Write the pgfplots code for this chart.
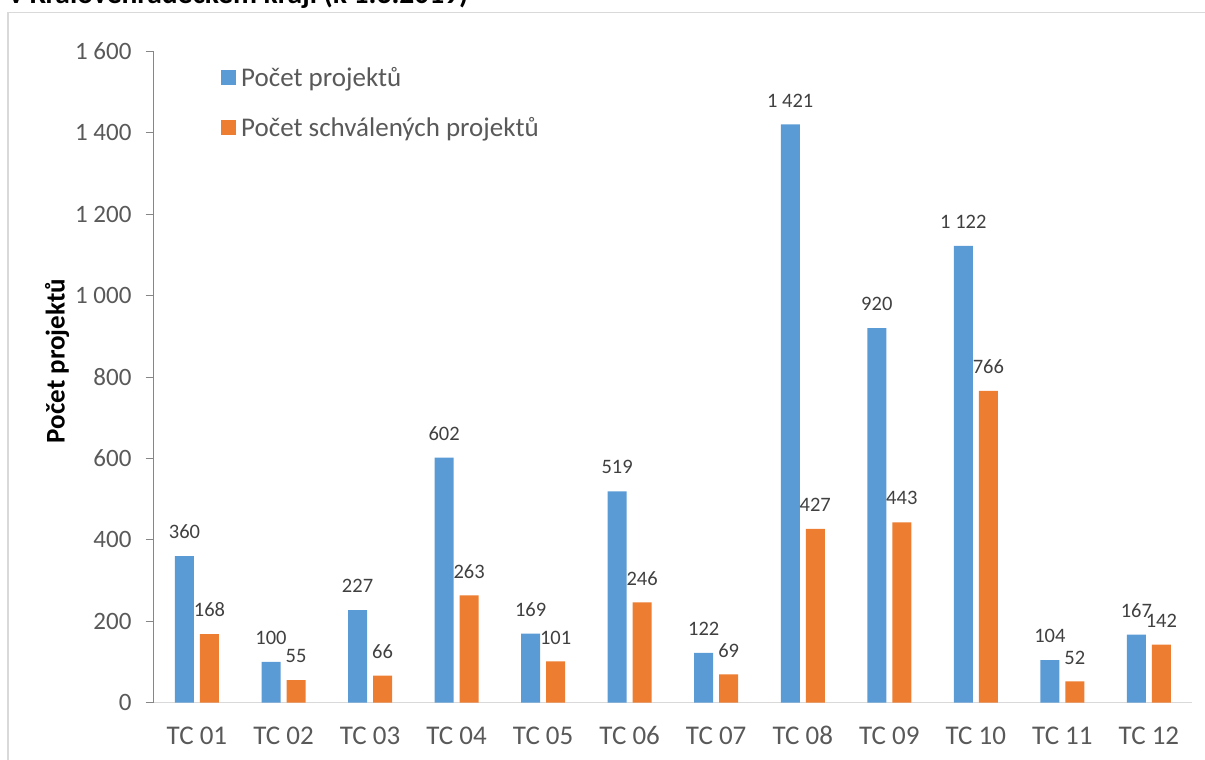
\documentclass[border=0pt]{standalone}
\usepackage{pgfplots}
\pgfplotsset{compat=1.18}
\usepackage{fontspec}
\setmainfont{Carlito}
\definecolor{cblue}{HTML}{5B9BD5}
\definecolor{corange}{HTML}{ED7D31}
\definecolor{ctick}{HTML}{595959}
\definecolor{clabel}{HTML}{404040}
\definecolor{cgrid}{HTML}{D9D9D9}
\definecolor{caxis}{HTML}{868686}
\begin{document}
\begin{tikzpicture}
\useasboundingbox (0pt,0pt) rectangle (1205pt,-760pt);
\clip (0pt,0pt) rectangle (1205pt,-760pt);
\draw[cgrid, line width=1.3pt] (8pt,-780pt) -- (8pt,-12.5pt) -- (1230pt,-12.5pt);
\node[anchor=base west, inner sep=0pt, font=\bfseries\fontsize{29.5}{34}\selectfont, text=black] at (9pt,-3.3pt) {v Královéhradeckém kraji (k 1.3.2019)};
\begin{axis}[
  at={(153.7pt,-702.5pt)}, anchor=south west,
  scale only axis, width=1038.5pt, height=651pt,
  xmin=-0.5, xmax=11.5, ymin=0, ymax=1600,
  ybar=6pt, bar width=19pt,
  axis x line=bottom, axis y line=left,
  axis line style={-},
  x axis line style={cgrid, line width=1.3pt},
  y axis line style={caxis, line width=1pt},
  xtick={0,...,11},
  xticklabels={TC 01,TC 02,TC 03,TC 04,TC 05,TC 06,TC 07,TC 08,TC 09,TC 10,TC 11,TC 12},
  ytick={0,200,...,1600},
  tick align=outside, major tick length=8pt,
  xtick style={draw=none},
  ytick style={caxis, line width=1pt},
  /pgf/number format/assume math mode=true,
  /pgf/number format/1000 sep={\ },
  yticklabel style={font=\fontsize{25}{29}\selectfont, text=ctick, inner sep=0pt, xshift=-14pt},
  xticklabel style={font=\fontsize{27}{31}\selectfont, text=ctick, inner sep=0pt, text height=17.3pt, text depth=0pt, yshift=-16pt},
  every axis y label/.style={at={(axis description cs:-0.0931,0.5246)}, rotate=90, anchor=center, font=\bfseries\fontsize{27}{31}\selectfont, text=black},
  ylabel={Počet projektů},
  nodes near coords,
  every node near coord/.append style={font=\fontsize{20.5}{24}\selectfont, text=clabel, inner sep=0pt, yshift=17pt},
  legend image code/.code={\fill[#1] (0pt,-7.5pt) rectangle (15pt,7.5pt);},
  legend style={at={(0.0648,0.976)}, anchor=north west, draw=none, fill=none,
    font=\fontsize{27}{31}\selectfont, text=ctick, cells={anchor=west},
    row sep=29pt, column sep=5pt, inner sep=0pt, nodes={inner sep=0pt}},
]
\addplot[fill=cblue, draw=none] coordinates {(0,360) (1,100) (2,227) (3,602) (4,169) (5,519) (6,122) (7,1421) (8,920) (9,1122) (10,104) (11,167)};
\addplot[fill=corange, draw=none] coordinates {(0,168) (1,55) (2,66) (3,263) (4,101) (5,246) (6,69) (7,427) (8,443) (9,766) (10,52) (11,142)};
\legend{Počet projektů, Počet schválených projektů}
\end{axis}
\end{tikzpicture}
\end{document}
